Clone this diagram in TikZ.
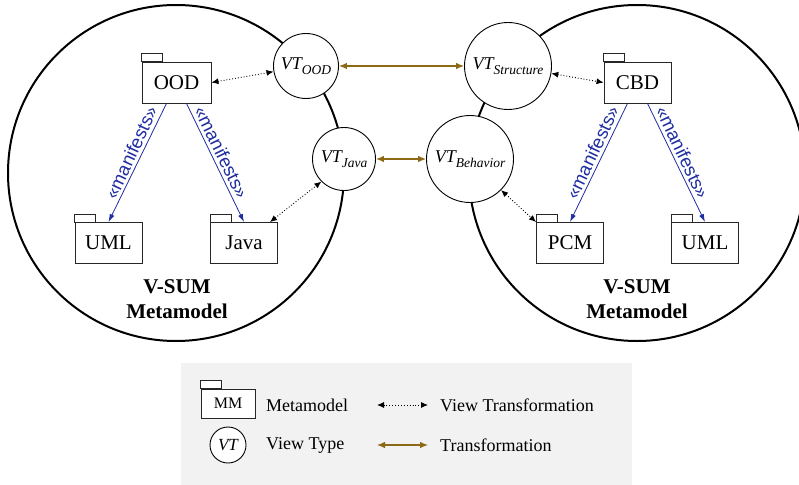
\documentclass[tikz,border=0pt]{standalone}
\usepackage{fontspec}
\setmainfont{Liberation Serif}
\setsansfont{Liberation Sans}
\usetikzlibrary{arrows.meta}
\definecolor{mblue}{RGB}{30,45,160}
\definecolor{mgold}{RGB}{140,105,20}
\definecolor{lgray}{RGB}{242,242,242}
\tikzset{
 pkgbox/.style={draw=black!85, line width=0.9pt, fill=white, minimum width=67pt, minimum height=41pt, inner sep=0pt, font=\fontsize{21}{24}\selectfont},
 pkgtab/.style={draw=black!85, line width=0.9pt, fill=white},
 vt/.style={circle, draw, line width=0.9pt, fill=white, inner sep=0pt, font=\fontsize{18}{20}\selectfont\itshape},
 bigcirc/.style={draw, line width=2pt},
 vtrans/.style={dotted, line width=0.9pt, {Latex[length=7pt,width=6pt]}-{Latex[length=7pt,width=6pt]}},
 trans/.style={draw=mgold, line width=1.1pt, {Latex[length=8pt,width=6.5pt]}-{Latex[length=8pt,width=6.5pt]}},
 manif/.style={draw=mblue, line width=0.8pt, -{Latex[length=8pt,width=5pt]}},
 mlabel/.style={text=mblue, font=\sffamily\fontsize{18.5}{20}\selectfont, anchor=south, pos=0.45, inner sep=3pt},
 vsum/.style={font=\bfseries\fontsize{21}{25}\selectfont, align=center},
 ltext/.style={anchor=west, inner sep=0pt, font=\fontsize{18}{20}\selectfont},
}
\newcommand\mmpkg[4][]{\node[pkgbox,#1] (#2) at (#3) {#4}; \draw[pkgtab] (#2.north west) rectangle ++(21pt,8pt);}
\newcommand\vtsub[1]{\raisebox{-0.25em}{\fontsize{13.5}{15}\selectfont #1}}
\begin{document}
\begin{tikzpicture}[x=1pt,y=-1pt]
\useasboundingbox (0,0) rectangle (799,484);
\node[fill=lgray, minimum width=451pt, minimum height=125pt, anchor=north west, inner sep=0pt] (legend) at (181,363) {};
\draw[bigcirc] (176,173) circle[radius=168];
\draw[bigcirc] (637,173) circle[radius=168];
% view types
\node[vt, minimum size=65pt] (vtood) at (306,66) {VT\vtsub{OOD}};
\node[vt, minimum size=63pt] (vtjava) at (344,159) {VT\vtsub{Java}};
\node[vt, minimum size=87pt] (vtstruct) at (508,66) {VT\vtsub{Structure}};
\node[vt, minimum size=87pt] (vtbeh) at (470,159) {VT\vtsub{Behavior}};
% packages
\mmpkg[minimum width=69pt]{ood}{176.5,82.5}{OOD}
\mmpkg{umll}{108.5,243}{UML}
\mmpkg{java}{244,243}{Java}
\mmpkg{cbd}{637.5,82.5}{CBD}
\mmpkg{pcm}{570,243}{PCM}
\mmpkg{umlr}{705,243}{UML}
% manifests
\draw[manif] ([xshift=-10pt]ood.south) -- node[mlabel, rotate=65] {«manifests»} (umll.north);
\draw[manif] ([xshift=10pt]ood.south) -- node[mlabel, rotate=-64] {«manifests»} (java.north);
\draw[manif] ([xshift=-10pt]cbd.south) -- node[mlabel, rotate=64.5] {«manifests»} (pcm.north);
\draw[manif] ([xshift=10pt]cbd.south) -- node[mlabel, rotate=-64.5] {«manifests»} (umlr.north);
% view transformations
\draw[vtrans] (ood.east) -- (vtood);
\draw[vtrans] ([xshift=-8pt]java.north east) -- (vtjava.225);
\draw[vtrans] (vtstruct) -- (cbd.west);
\draw[vtrans] (vtbeh.-45) -- (pcm.north west);
% transformations
\draw[trans] (vtood) -- (vtstruct);
\draw[trans] (vtjava) -- (vtbeh);
% labels
\node[vsum] (vsuml) at (177,299) {V-SUM\\Metamodel};
\node[vsum] (vsumr) at (637,299) {V-SUM\\Metamodel};
% legend
\mmpkg[minimum width=54pt, minimum height=29pt, font=\fontsize{16}{18}\selectfont]{lmm}{228,403.5}{MM}
\node[vt, minimum size=36pt, font=\fontsize{17}{19}\selectfont\itshape] (lvt) at (228,445) {VT};
\node[ltext] (lmeta) at (266,405) {Metamodel};
\node[ltext] (lview) at (266,445) {View Type};
\coordinate (la1) at (377,405);
\coordinate (la2) at (428,405);
\coordinate (lb1) at (377,445);
\coordinate (lb2) at (428,445);
\draw[vtrans] (la1) -- (la2);
\draw[trans] (lb1) -- (lb2);
\node[ltext] (lvtr) at (440,405) {View Transformation};
\node[ltext] (ltr) at (440,445) {Transformation};
\end{tikzpicture}
\end{document}
